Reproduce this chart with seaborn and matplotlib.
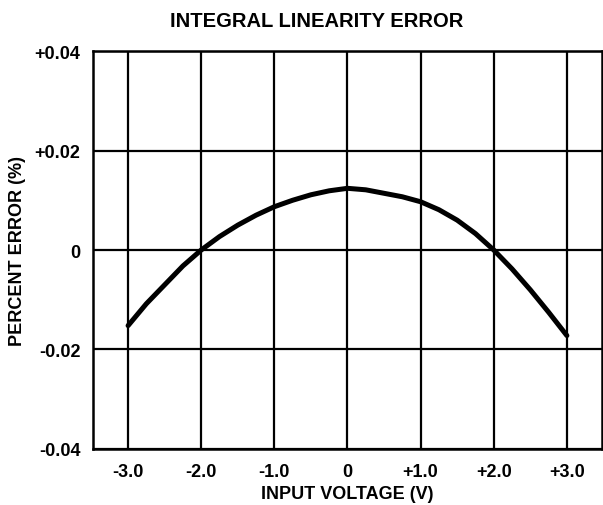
import matplotlib
matplotlib.use("Agg")
import matplotlib.pyplot as plt
import seaborn as sns
import pandas as pd

# Data
input_voltage = [-3.0, -2.75, -2.5, -2.25, -2.0, -1.75, -1.5, -1.25, -1.0, -0.75, -0.5, -0.25, 0.0,
                 0.25, 0.5, 0.75, 1.0, 1.25, 1.5, 1.75, 2.0, 2.25, 2.5, 2.75, 3.0]
percent_error = [-0.0152, -0.0108, -0.0070, -0.0032, 0.0000, 0.0027, 0.0050, 0.0070, 0.0087, 0.0100,
                 0.0111, 0.0119, 0.0124, 0.0121, 0.0114, 0.0107, 0.0097, 0.0081, 0.0060, 0.0033,
                 0.0000, -0.0038, -0.0080, -0.0125, -0.0172]
x_ticks = [-3.0, -2.0, -1.0, 0.0, 1.0, 2.0, 3.0]
x_tick_labels = ["-3.0", "-2.0", "-1.0", "0", "+1.0", "+2.0", "+3.0"]
y_ticks = [-0.04, -0.02, 0.0, 0.02, 0.04]
y_tick_labels = ["-0.04", "-0.02", "0", "+0.02", "+0.04"]

df = pd.DataFrame({"v": input_voltage, "e": percent_error})

sns.set_theme(style="white")
plt.rcParams["font.family"] = ["Liberation Sans", "DejaVu Sans"]
plt.rcParams["font.weight"] = "bold"
plt.rcParams["text.color"] = "black"
plt.rcParams["axes.labelcolor"] = "black"
plt.rcParams["xtick.color"] = "black"
plt.rcParams["ytick.color"] = "black"

fig = plt.figure(figsize=(6.03, 5.06), dpi=100)
ax = fig.add_axes([0.1542, 0.1107, 0.9983 - 0.1542, 0.8972 - 0.1107])

sns.lineplot(data=df, x="v", y="e", ax=ax, color="black", linewidth=3.6, zorder=3)

FS = 13
ax.set_xlim(-3.48, 3.48)
ax.set_ylim(-0.04, 0.04)
ax.set_xticks(x_ticks)
ax.set_xticklabels(x_tick_labels, fontsize=FS, fontweight="bold", color="black")
ax.set_yticks(y_ticks)
ax.set_yticklabels(y_tick_labels, fontsize=FS, fontweight="bold", color="black")
ax.grid(True, color="black", linewidth=1.6)
ax.tick_params(axis="both", length=0)
ax.tick_params(axis="y", pad=9)
ax.tick_params(axis="x", pad=10)
for s in ax.spines.values():
    s.set_visible(True)
    s.set_color("black")
    s.set_linewidth(1.8)

ax.set_xlabel("INPUT VOLTAGE (V)", fontsize=FS, fontweight="bold", labelpad=4, color="black")
ax.set_ylabel("PERCENT ERROR (%)", fontsize=FS, fontweight="bold", labelpad=6, color="black")
fig.text(0.525, 0.958, "INTEGRAL LINEARITY ERROR", ha="center", va="center",
         fontsize=14.5, fontweight="bold", color="black")

fig.savefig("out.png", dpi=100)
